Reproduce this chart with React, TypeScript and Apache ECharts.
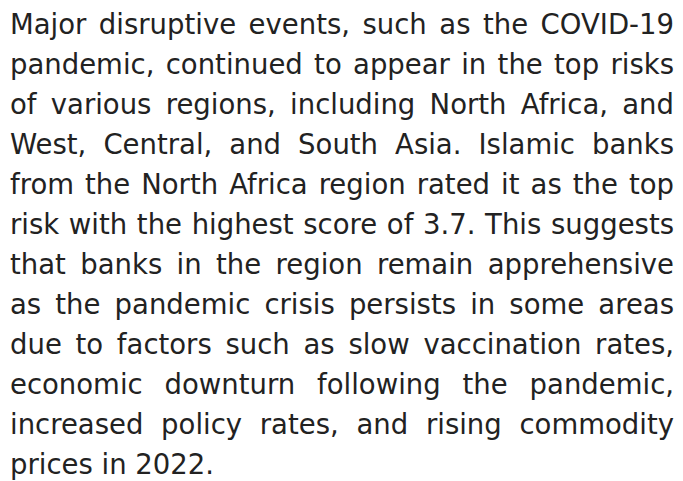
import React, { useEffect, useRef } from "react";
import * as echarts from "echarts";

const PARAGRAPH_LINES: string[] = [
  "Major disruptive events, such as the COVID-19",
  "pandemic, continued to appear in the top risks",
  "of various regions, including North Africa, and",
  "West, Central, and South Asia. Islamic banks",
  "from the North Africa region rated it as the top",
  "risk with the highest score of 3.7. This suggests",
  "that banks in the region remain apprehensive",
  "as the pandemic crisis persists in some areas",
  "due to factors such as slow vaccination rates,",
  "economic downturn following the pandemic,",
  "increased policy rates, and rising commodity",
  "prices in 2022.",
];

const WIDTH = 683;
const HEIGHT = 481;
const FONT_SIZE = 27.5;
const FONT_FAMILY = '"DejaVu Sans", Verdana, sans-serif';
const FONT = `${FONT_SIZE}px ${FONT_FAMILY}`;
const TEXT_COLOR = "#222222";
const LEFT = 10;
const RIGHT = 674;
const FIRST_BASELINE = 34;
const LINE_HEIGHT = 40;

function buildGraphic() {
  const canvas = document.createElement("canvas");
  const ctx = canvas.getContext("2d")!;
  ctx.font = FONT;
  const boxWidth = RIGHT - LEFT;
  const spaceW = ctx.measureText(" ").width;
  const elements: any[] = [];
  PARAGRAPH_LINES.forEach((line, li) => {
    const words = line.split(" ");
    const widths = words.map((w) => ctx.measureText(w).width);
    const total = widths.reduce((a, b) => a + b, 0);
    const isLast = li === PARAGRAPH_LINES.length - 1;
    const gap = isLast || words.length < 2 ? spaceW : (boxWidth - total) / (words.length - 1);
    const baseline = FIRST_BASELINE + li * LINE_HEIGHT;
    const yMid = baseline - 0.346 * FONT_SIZE;
    let x = LEFT;
    words.forEach((w, wi) => {
      elements.push({
        type: "text",
        x,
        y: yMid,
        silent: true,
        style: {
          text: w,
          font: FONT,
          fill: TEXT_COLOR,
          align: "left",
          verticalAlign: "middle",
        },
      });
      x += widths[wi] + gap;
    });
  });
  return elements;
}

export default function App() {
  const ref = useRef<HTMLDivElement>(null);
  useEffect(() => {
    if (!ref.current) return;
    const chart = echarts.init(ref.current, null, { renderer: "svg" });
    chart.setOption({
      animation: false,
      backgroundColor: "#ffffff",
      graphic: { elements: buildGraphic() },
    });
    return () => chart.dispose();
  }, []);
  return (
    <div
      ref={ref}
      style={{ position: "fixed", left: 0, top: 0, width: WIDTH, height: HEIGHT, background: "#fff" }}
    />
  );
}
